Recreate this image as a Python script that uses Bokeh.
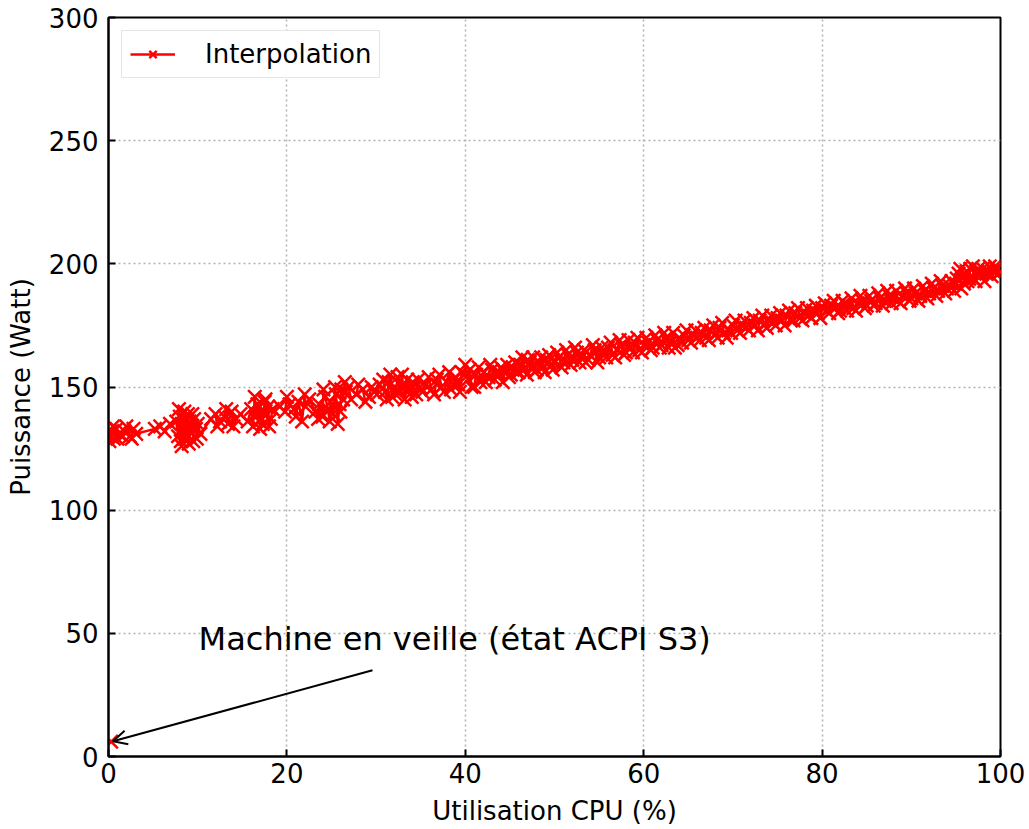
import numpy as np
from bokeh.plotting import figure
from bokeh.models import Range1d, FixedTicker, Arrow, OpenHead, Label, Legend, LegendItem
from bokeh.embed import file_html
from bokeh.resources import INLINE

cpu_a = [0.0, 0.3, 0.6, 0.9, 1.2, 1.6, 2.0, 2.4, 2.8, 3.1,
         5.2, 5.8, 6.3, 6.9,
         7.6, 7.8, 8.0, 8.1, 8.3, 8.4, 8.5, 8.6, 8.7, 8.8, 8.9, 9.0, 9.1, 9.2, 9.3, 9.5, 9.6, 9.8, 10.0, 10.3,
         11.5, 12.0, 12.5, 13.0, 13.4, 13.8, 14.3, 14.8,
         15.6, 16.0, 16.2, 16.5, 16.7, 16.9, 17.1, 17.3, 17.5, 17.7, 17.9, 18.2, 18.4,
         19.2, 19.8, 20.3, 20.8, 21.3, 21.7, 22.1, 22.5,
         23.2, 23.6, 24.0, 24.3, 24.6, 24.9, 25.2, 25.5, 25.7, 25.9, 26.1, 26.3, 26.6, 26.9,
         27.8, 28.5, 29.2, 29.8, 30.4,
         31.0, 31.4, 31.8, 32.1, 32.4, 32.7, 33.0, 33.2, 33.5, 33.8, 34.1, 34.5, 34.9,
         35.6, 36.2, 36.8, 37.3, 37.9, 38.4, 38.9, 39.2, 39.6, 40.0, 40.3, 40.7,
         41.2, 41.7, 42.1, 42.6, 43.0, 43.5, 44.0, 44.4, 44.9, 45.3, 45.8,
         46.2, 46.6, 47.0, 47.4, 47.8, 48.3, 48.7, 49.1, 49.6, 50.0,
         50.5, 51.0, 51.5, 52.0, 52.5, 53.0, 53.5, 54.0, 54.5, 55.0,
         55.5, 56.0, 56.5, 57.0, 57.5, 58.0, 58.5, 59.0, 59.5, 60.0,
         60.5, 61.0, 61.5, 62.0, 62.5, 63.0, 63.5, 64.0, 64.5, 65.0,
         65.5, 66.0, 66.5, 67.0, 67.5, 68.0, 68.5, 69.0, 69.5, 70.0,
         70.5, 71.0, 71.5, 72.0, 72.5, 73.0, 73.5, 74.0, 74.5, 75.0,
         75.5, 76.0, 76.5, 77.0, 77.5, 78.0, 78.5, 79.0, 79.5, 80.0,
         80.5, 81.0, 81.5, 82.0, 82.5, 83.0, 83.5, 84.0, 84.5, 85.0,
         85.5, 86.0, 86.5, 87.0, 87.5, 88.0, 88.5, 89.0, 89.5, 90.0,
         90.5, 91.0, 91.5, 92.0, 92.5, 93.0, 93.5, 94.0, 94.5, 95.0,
         95.3, 95.6, 96.0, 96.3, 96.6, 97.0, 97.3, 97.7, 98.0, 98.4, 98.8, 99.2, 99.6, 100.0]

watt_a = [130, 132, 129, 133, 131, 130, 134, 130, 133, 131,
          133, 134, 132, 135,
          136, 130, 138, 128, 133, 135, 129, 137, 131, 134, 139, 130, 136, 132, 134, 128, 137, 133, 135, 131,
          137, 139, 136, 138, 135, 140, 137, 139,
          136, 141, 134, 138, 143, 136, 140, 135, 144, 139, 142, 137, 141,
          142, 140, 143, 141, 144, 136, 142, 145,
          140, 143, 138, 146, 141, 144, 139, 147, 135, 143, 149, 145, 148, 150,
          147, 149, 146, 148, 151,
          148, 152, 146, 150, 154, 148, 151, 145, 153, 149, 152, 147, 150,
          151, 149, 153, 150, 152, 149, 154, 151, 156, 159, 153, 150,
          155, 152, 156, 154, 157, 155, 158, 156, 154, 158, 156,
          159, 157, 161, 158, 156, 160, 158, 161, 159, 160,
          162, 160, 163, 161, 164, 162, 160, 163, 165, 162,
          164, 166, 163, 165, 167, 164, 166, 168, 165, 167,
          168, 166, 169, 167, 170, 168, 166, 170, 171, 169,
          171, 170, 172, 170, 173, 171, 174, 172, 173, 175,
          173, 175, 174, 176, 175, 177, 175, 177, 176, 178,
          177, 179, 177, 180, 178, 180, 179, 181, 180, 182,
          181, 183, 182, 181, 184, 183, 182, 184, 185, 183,
          185, 184, 186, 185, 187, 186, 185, 187, 188, 186,
          188, 187, 189, 188, 190, 189, 191, 190, 193, 192,
          196, 190, 195, 193, 198, 194, 197, 195, 198, 196, 199, 197, 198, 197]

cpu_b = [0.1, 0.5, 1.0, 1.8, 2.6, 7.9, 8.2, 8.5, 9.0, 9.4, 9.9, 12.2, 13.2, 14.0,
         16.4, 17.0, 17.6, 18.0, 20.0, 21.0, 22.0, 23.5, 24.1, 24.8, 25.4, 26.0, 26.5,
         27.2, 28.0, 28.8, 29.5, 30.1, 30.8, 31.2, 31.6, 32.2, 32.9, 33.4, 34.0, 34.7, 35.2,
         35.9, 36.5, 37.1, 37.6, 38.2, 38.7, 39.4, 39.9, 40.5, 41.0, 41.5, 42.3, 42.8, 43.3,
         43.8, 44.2, 44.7, 45.1, 45.6,
         46.0, 46.4, 46.9, 47.2, 47.6, 48.0, 48.5, 48.9, 49.4, 49.8, 50.3, 50.8, 51.3, 51.8,
         52.3, 52.8, 53.3, 53.8, 54.3, 54.8,
         55.3, 55.8, 56.3, 56.8, 57.3, 57.8, 58.3, 58.8, 59.3, 59.8, 60.3, 60.8, 61.3, 61.8,
         62.3, 62.8, 63.3, 63.8, 64.3, 64.8,
         65.3, 65.8, 66.3, 66.8, 67.3, 67.8, 68.3, 68.8, 69.3, 69.8, 70.3, 70.8, 71.3, 71.8,
         72.3, 72.8, 73.3, 73.8, 74.3, 74.8,
         75.3, 75.8, 76.3, 76.8, 77.3, 77.8, 78.3, 78.8, 79.3, 79.8, 80.3, 80.8, 81.3, 81.8,
         82.3, 82.8, 83.3, 83.8, 84.3, 84.8,
         85.3, 85.8, 86.3, 86.8, 87.3, 87.8, 88.3, 88.8, 89.3, 89.8, 90.3, 90.8, 91.3, 91.8,
         92.3, 92.8, 93.3, 93.8, 94.3, 94.8,
         95.1, 95.5, 95.9, 96.2, 96.5, 96.9, 97.2, 97.5, 97.9, 98.2, 98.6, 99.0, 99.4, 99.8]

watt_b = [128, 134, 129, 132, 129, 141, 126, 140, 127, 139, 129, 134, 141, 134,
          146, 133, 145, 134, 146, 138, 147, 137, 149, 136, 150, 140, 152,
          145, 151, 144, 150, 147, 153, 145, 155, 147, 155, 149, 146, 153, 148,
          154, 147, 155, 148, 156, 151, 148, 155, 157, 150, 158, 152, 159, 153,
          156, 152, 159, 155, 160,
          156, 162, 155, 160, 162, 157, 162, 156, 163, 157, 164, 158, 165, 159,
          166, 160, 165, 161, 167, 160,
          166, 162, 168, 162, 169, 163, 169, 164, 170, 164, 170, 165, 171, 166,
          172, 166, 172, 167, 168, 173,
          168, 173, 169, 174, 169, 175, 170, 176, 170, 172, 177, 172, 177, 173,
          178, 173, 179, 174, 179, 175,
          180, 175, 181, 177, 182, 177, 182, 178, 183, 178, 184, 180, 185, 180,
          185, 181, 186, 181, 187, 182,
          187, 183, 188, 183, 189, 184, 189, 184, 190, 185, 190, 185, 191, 186,
          192, 187, 193, 188, 191, 189,
          194, 198, 192, 197, 194, 199, 193, 198, 196, 193, 197, 195, 199, 196]

standby_cpu = [0.3]
standby_watt = [6]

x_ticks = [0, 20, 40, 60, 80, 100]
y_ticks = [0, 50, 100, 150, 200, 250, 300]

FONT = "DejaVu Sans"
RED = "#ff0000"

xs = np.array(cpu_a + cpu_b, dtype=float)
ys = np.array(watt_a + watt_b, dtype=float)
order = np.argsort(xs, kind="stable")
xs, ys = xs[order], ys[order]

p = figure(width=1029, height=829, output_backend="svg", toolbar_location=None,
           x_range=Range1d(0, 100), y_range=Range1d(0, 300),
           min_border_left=108, min_border_right=29, min_border_top=17, min_border_bottom=73)
p.outline_line_color = "black"
p.outline_line_width = 2

for ax in (p.xaxis[0], p.yaxis[0]):
    ax.axis_line_width = 2
    ax.major_tick_line_width = 2
    ax.major_tick_in = 7
    ax.major_tick_out = 0
    ax.minor_tick_line_color = None
    ax.major_label_text_font = FONT
    ax.major_label_text_font_size = "26px"
    ax.major_label_text_color = "black"
    ax.axis_label_text_font = FONT
    ax.axis_label_text_font_size = "26px"
    ax.axis_label_text_font_style = "normal"
    ax.axis_label_text_color = "black"

p.xaxis.major_label_standoff = 6
p.yaxis.major_label_standoff = 10
p.xaxis.ticker = FixedTicker(ticks=x_ticks)
p.yaxis.ticker = FixedTicker(ticks=y_ticks)
p.xaxis.axis_label = "Utilisation CPU (%)"
p.yaxis.axis_label = "Puissance (Watt)"
p.xaxis.axis_label_standoff = 10
p.yaxis.axis_label_standoff = 10

p.grid.grid_line_color = "#b0b0b0"
p.grid.grid_line_dash = "2 3"
p.grid.grid_line_width = 1.5

ln = p.line(xs, ys, line_color=RED, line_width=2.5)
sc = p.scatter(xs, ys, marker="x", size=19, line_color=RED, line_width=2.5)
p.scatter(standby_cpu, standby_watt, marker="x", size=19, line_color=RED, line_width=2.5)

legend = Legend(items=[LegendItem(label="Interpolation", renderers=[ln, sc])],
                location="top_left", label_text_font=FONT, label_text_font_size="26px",
                label_text_color="black",
                border_line_color="#cccccc", border_line_width=1.5,
                glyph_width=45, glyph_height=26, label_standoff=30, padding=8, margin=13,
                spacing=0)
p.add_layout(legend)

p.add_layout(Arrow(end=OpenHead(size=14, line_width=2, line_color="black"),
                   x_start=29.6, y_start=35, x_end=0.5, y_end=6.2,
                   line_width=2, line_color="black"))
p.add_layout(Label(x=10.1, y=40, text="Machine en veille (état ACPI S3)",
                   text_font=FONT, text_font_size="32px", text_color="black"))

open("out.html", "w").write(file_html(p, INLINE))
